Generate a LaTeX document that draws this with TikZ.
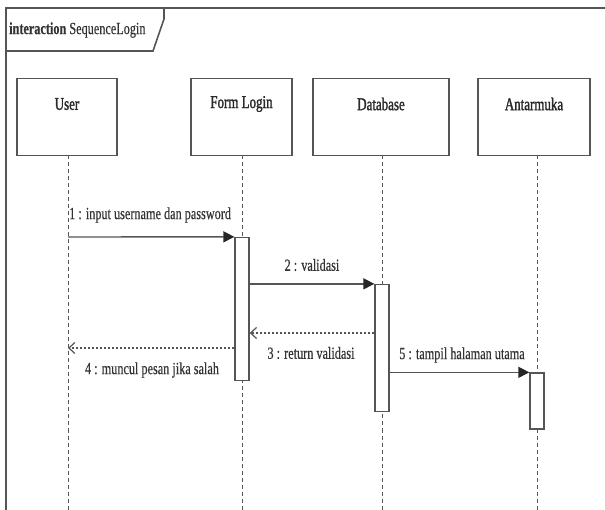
\documentclass[tikz,border=0pt]{standalone}
\usepackage{fontspec}
\setmainfont{Liberation Serif}
\newfontfamily\narrowserif[FakeStretch=0.72,FakeBold=0.4]{Liberation Serif}
\newfontfamily\narrowheavy[FakeStretch=0.72,FakeBold=1.5]{Liberation Serif}
\usetikzlibrary{arrows.meta}
\definecolor{linegray}{HTML}{555555}
\definecolor{txtgray}{HTML}{333333}
\begin{document}
\begin{tikzpicture}[x=1pt,y=-1pt,
  frame/.style={draw=linegray,line width=1.6pt},
  pbox/.style={draw=linegray,line width=1.5pt,fill=white,minimum height=77pt,inner sep=0pt},
  ptext/.style={font=\narrowheavy\fontsize{18}{20}\selectfont,text=txtgray!80!black,inner sep=0pt},
  lifeline/.style={draw=linegray,line width=1pt,dash pattern=on 4pt off 3pt},
  act/.style={draw=linegray,line width=1.3pt,fill=white,minimum width=14pt,inner sep=0pt},
  msg/.style={draw=linegray,line width=1.4pt,-{Triangle[length=11pt,width=11pt,color=black!85]}},
  ret/.style={draw=linegray,line width=1.2pt,dash pattern=on 2pt off 2pt,
              -{Straight Barb[length=6pt,width=11pt,line width=1.2pt]}},
  mlabel/.style={font=\narrowserif\fontsize{17}{19}\selectfont,text=txtgray,inner sep=0pt}]
\useasboundingbox (0,0) rectangle (605,510);

% interaction frame and its name tab
\draw[frame] (6,510) -- (6,8) -- (605,8);
\draw[frame] (6,51) -- (153,51) -- (164,19) -- (164,8);
\node[anchor=west,font=\narrowserif\fontsize{17}{19}\selectfont,text=txtgray,inner sep=0pt] (title) at (9,30) {\textbf{interaction} SequenceLogin};

% participants
\node[pbox,minimum width=100pt] (user) at (67,117) {};
\node[pbox,minimum width=101pt] (form) at (241.5,117) {};
\node[pbox,minimum width=136pt] (db) at (381,117) {};
\node[pbox,minimum width=112pt] (ui) at (534,117) {};
\node[ptext] (tuser) at (67,104) {User};
\node[ptext] (tform) at (241.5,104) {Form Login};
\node[ptext] (tdb) at (381,104) {Database};
\node[ptext] (tui) at (534,104) {Antarmuka};

% lifelines
\coordinate (userend) at (68,510);
\coordinate (formend) at (242,510);
\coordinate (dbend) at (382,510);
\coordinate (uiend) at (537,510);
\draw[lifeline] (68,155.5) -- (userend);
\draw[lifeline] (242,155.5) -- (formend);
\draw[lifeline] (382,155.5) -- (dbend);
\draw[lifeline] (537,155.5) -- (uiend);

% activation bars
\node[act,minimum height=143pt] (formact) at (242,309) {};
\node[act,minimum height=127pt] (dbact) at (382,348) {};
\node[act,minimum height=56pt] (uiact) at (537,401) {};

% message anchors on the lifelines
\coordinate (m1) at (68,237);
\coordinate (m3) at (382,333);
\coordinate (m4) at (68,348);

% messages
\draw[msg] (m1) -- (formact.north west);
\draw[msg] (formact.east |- dbact.north) -- (dbact.north west);
\draw[ret] (dbact.west |- m3) -- (formact.east |- m3);
\draw[ret] (formact.west |- m4) -- (m4);
\draw[msg] (dbact.east |- uiact.north) -- (uiact.north west);

% message labels
\node[mlabel,anchor=west] (l1) at (69,215) {1 : input username dan password};
\node[mlabel] (l2) at (312,265) {2 : validasi};
\node[mlabel] (l3) at (311,353) {3 : return validasi};
\node[mlabel] (l4) at (152,370) {4 : muncul pesan jika salah};
\node[mlabel] (l5) at (462,355) {5 : tampil halaman utama};
\end{tikzpicture}
\end{document}
